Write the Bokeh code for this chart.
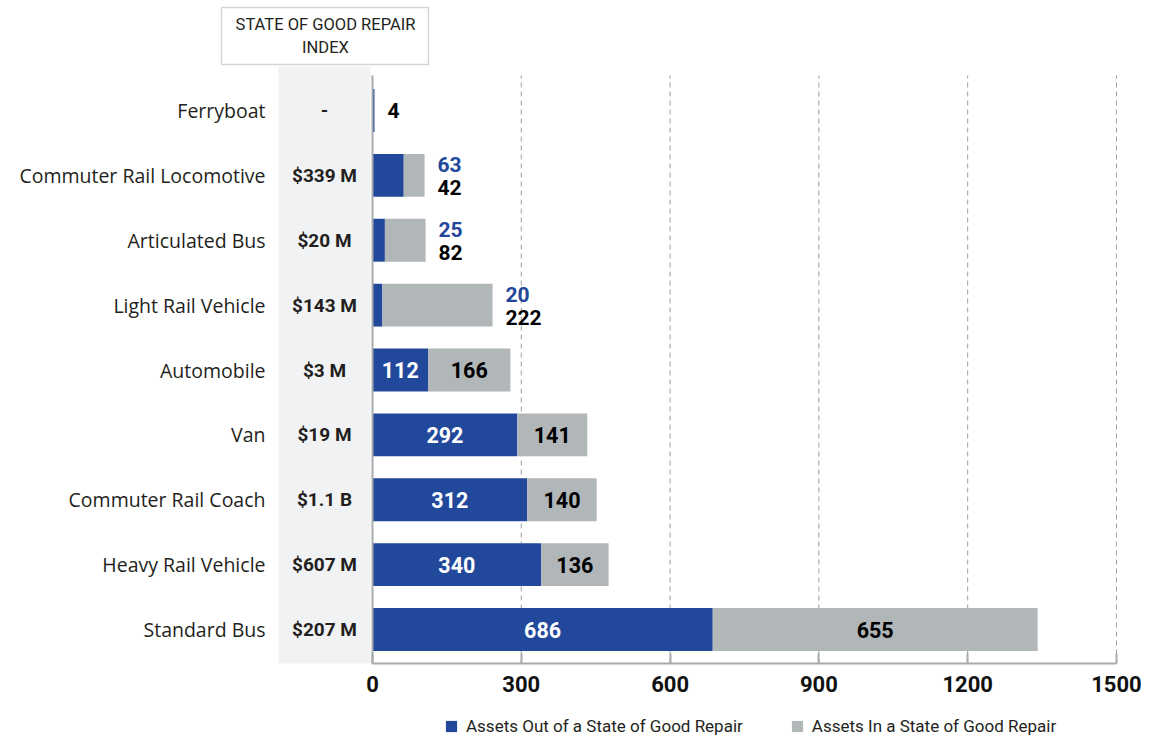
from bokeh.plotting import figure
from bokeh.models import Range1d, LinearAxis, FixedTicker, Legend, LegendItem, ColumnDataSource
from bokeh.core.properties import value
from bokeh.embed import file_html
from bokeh.resources import INLINE

# ---------------- data ----------------
categories = ["Ferryboat", "Commuter Rail Locomotive", "Articulated Bus", "Light Rail Vehicle",
              "Automobile", "Van", "Commuter Rail Coach", "Heavy Rail Vehicle", "Standard Bus"]
sgr_index = ["-", "$339 M", "$20 M", "$143 M", "$3 M", "$19 M", "$1.1 B", "$607 M", "$207 M"]
out_of_sgr = [4, 63, 25, 20, 112, 292, 312, 340, 686]
in_sgr = [0, 42, 82, 222, 166, 141, 140, 136, 655]
x_ticks = [0, 300, 600, 900, 1200, 1500]
header_text = "STATE OF GOOD REPAIR\nINDEX"
legend_labels = ["Assets Out of a State of Good Repair", "Assets In a State of Good Repair"]

BLUE = "#21489a"
GRAY = "#b1b6b9"
BAND = "#f1f2f4"
AXIS = "#a7abae"
TXT = "#231f20"

n = len(categories)
ypos = [n - 1 - i for i in range(n)]
totals = [o + g for o, g in zip(out_of_sgr, in_sgr)]

Y0 = -0.524      # baseline of the value axis
YTOP = 8.54      # top of the zero line / grid

p = figure(width=1157, height=738, output_backend="svg", toolbar_location=None,
           x_axis_type=None, y_axis_type=None,
           x_range=Range1d(-750, 1582.7), y_range=Range1d(-1.68, 9.696),
           min_border_left=0, min_border_right=0, min_border_top=0, min_border_bottom=0)
p.outline_line_color = None
p.background_fill_color = "white"
p.border_fill_color = "white"

# left band & header box
p.quad(left=[-189.5], right=[-4], bottom=[Y0], top=[8.679], fill_color=BAND, line_color=None)
p.quad(left=[-304.4], right=[112.9], bottom=[8.71], top=[9.588], fill_color="white",
       line_color="#d4d6d8", line_width=1.5)
p.text(x=[-94.8], y=[9.149], text=[header_text], text_align="center", text_baseline="middle",
       text_font=value("Roboto"), text_font_size="16.5px", text_color=TXT, text_line_height=1.17)

# dashed grid lines
grid_x = x_ticks[1:]
p.segment(x0=grid_x, y0=[Y0] * len(grid_x), x1=grid_x, y1=[YTOP] * len(grid_x),
          line_color="#9a9ea1", line_width=1, line_dash="5 4")

# bars
src = ColumnDataSource(dict(y=ypos, out=out_of_sgr, inn=in_sgr, tot=totals))
r_out = p.hbar(y="y", left=0, right="out", height=0.66, fill_color=BLUE, line_color=None, source=src)
r_in = p.hbar(y="y", left="out", right="tot", height=0.66, fill_color=GRAY, line_color=None, source=src)

# zero line
p.segment(x0=[0], y0=[Y0], x1=[0], y1=[YTOP], line_color=AXIS, line_width=2)

# category labels & index values
p.text(x=[-215.7] * n, y=ypos, text=categories, text_align="right", text_baseline="middle",
       text_font=value("Open Sans"), text_font_size="19.5px", text_color=TXT)
p.text(x=[-96.8] * n, y=ypos, text=sgr_index, text_align="center", text_baseline="middle",
       text_font=value("Roboto"), text_font_style="bold", text_font_size="19px", text_color=TXT)

# value labels
in_x, in_y, in_t, in_c = [], [], [], []
ox, oy, ot, oc, ooff = [], [], [], [], []
for y, o, g, t in zip(ypos, out_of_sgr, in_sgr, totals):
    if min(o, g) >= 80:
        in_x += [o / 2, o + g / 2]
        in_y += [y, y]
        in_t += [str(o), str(g)]
        in_c += ["white", "black"]
    elif g == 0:
        ox.append(t); oy.append(y); ot.append(str(o)); oc.append("black"); ooff.append(0)
    else:
        ox += [t, t]; oy += [y, y]; ot += [str(o), str(g)]
        oc += [BLUE, "black"]; ooff += [-11, 12]
p.text(x=in_x, y=in_y, text=in_t, text_color=in_c, text_align="center", text_baseline="middle",
       text_font=value("Roboto"), text_font_style="bold", text_font_size="21.5px")
p.text(x=ox, y=oy, text=ot, text_color=oc, x_offset=13, y_offset=ooff, text_align="left",
       text_baseline="middle", text_font=value("Roboto"), text_font_style="bold", text_font_size="21px")

# x axis (fixed at the baseline inside the frame)
xaxis = LinearAxis(ticker=FixedTicker(ticks=x_ticks), bounds=(0, 1500), fixed_location=Y0)
xaxis.axis_line_color = AXIS
xaxis.axis_line_width = 2
xaxis.major_tick_in = 10
xaxis.major_tick_out = 0
xaxis.major_tick_line_color = AXIS
xaxis.major_tick_line_width = 2
xaxis.minor_tick_line_color = None
xaxis.major_label_standoff = 12
xaxis.major_label_text_font = "Roboto"
xaxis.major_label_text_font_style = "bold"
xaxis.major_label_text_font_size = "22px"
xaxis.major_label_text_color = "#111111"
p.add_layout(xaxis, "below")

legend = Legend(items=[LegendItem(label=legend_labels[0], renderers=[r_out]),
                       LegendItem(label=legend_labels[1], renderers=[r_in])],
                orientation="horizontal", location=(444, 2), margin=0, padding=0,
                glyph_width=14, glyph_height=14, label_standoff=8, spacing=47,
                label_text_font="Roboto", label_text_font_size="17px", label_text_color=TXT,
                border_line_color=None, background_fill_alpha=0)
p.add_layout(legend, "center")

open("out.html", "w").write(file_html(p, INLINE))
